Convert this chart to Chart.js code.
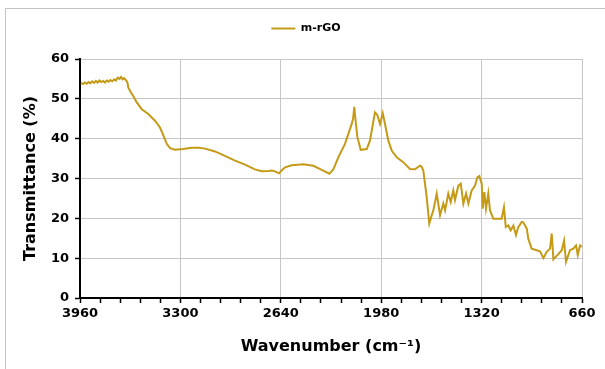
<!DOCTYPE html>
<html>
<head>
<meta charset="utf-8">
<script src="https://cdn.jsdelivr.net/npm/chart.js@4/dist/chart.umd.min.js"></script>
<style>
  html, body { margin: 0; padding: 0; background: #fff; }
  #wrap { position: relative; width: 605px; height: 369px; overflow: hidden; }
  #frame { position: absolute; left: 5px; top: 8px; width: 700px; height: 500px;
           border-left: 1px solid #c4c4c4; border-top: 1px solid #c4c4c4; }
  canvas { position: absolute; left: 0; top: 0; }
</style>
</head>
<body>
<div id="wrap">
  <div id="frame"></div>
  <canvas id="c" width="605" height="369"></canvas>
</div>
<script>
// FTIR spectrum of m-rGO: wavenumber (cm-1) and transmittance (%)
const wavenumbers = [
  3953, 3940, 3928, 3916, 3904, 3892, 3880, 3868, 3856, 3844, 3832, 3820,
  3808, 3796, 3784, 3772, 3760, 3748, 3736, 3724, 3712, 3700, 3690, 3680,
  3670, 3664, 3655, 3648, 3642, 3625, 3610, 3587, 3554, 3511, 3467, 3434,
  3412, 3390, 3368, 3335, 3281, 3226, 3180, 3138, 3073, 3007, 2941, 2875,
  2810, 2765, 2720, 2700, 2678, 2652, 2630, 2612, 2568, 2492, 2426, 2361,
  2321, 2295, 2262, 2218, 2174, 2165, 2157, 2147, 2137, 2115, 2075, 2054,
  2021, 2006, 1988, 1970, 1955, 1933, 1911, 1878, 1835, 1791, 1758, 1725,
  1715, 1703, 1681, 1664, 1650, 1637, 1615, 1593, 1572, 1560, 1539, 1523,
  1506, 1495, 1473, 1457, 1440, 1422, 1407, 1385, 1363, 1348, 1335, 1319,
  1313, 1302, 1291, 1276, 1265, 1243, 1210, 1188, 1173, 1161, 1144, 1129,
  1111, 1094, 1079, 1056, 1046, 1023, 1013, 991, 958, 936, 914, 892,
  870, 859, 848, 816, 793, 778, 765, 739, 717, 699, 688, 673, 662
];
const transmittance = [
  54.0, 53.7, 54.1, 53.8, 54.2, 53.9, 54.4, 54.0, 54.5, 54.1, 54.6, 54.2,
  54.5, 54.1, 54.6, 54.3, 54.7, 54.4, 54.9, 54.6, 55.3, 55.0, 55.5, 54.9,
  55.2, 54.9, 54.6, 54.0, 52.8, 51.6, 50.7, 49.1, 47.4, 46.2, 44.5, 42.8,
  40.8, 38.7, 37.6, 37.2, 37.4, 37.7, 37.7, 37.5, 36.8, 35.7, 34.5, 33.5,
  32.3, 31.8, 31.9, 32.0, 31.8, 31.3, 32.2, 32.8, 33.3, 33.6, 33.2, 32.0,
  31.2, 32.3, 35.3, 38.7, 43.7, 45.0, 48.0, 44.0, 40.5, 37.2, 37.4, 39.5,
  46.6, 46.0, 43.7, 46.4, 43.7, 39.5, 37.0, 35.3, 34.1, 32.4, 32.3, 33.2,
  33.0, 32.0, 25.3, 18.7, 20.5, 22.0, 26.2, 20.8, 23.7, 22.0, 26.2, 24.1,
  27.0, 24.6, 28.2, 28.7, 23.7, 26.2, 23.7, 27.0, 28.2, 30.3, 30.6, 28.7,
  22.4, 26.6, 22.4, 26.2, 22.0, 19.9, 19.9, 19.9, 22.8, 17.8, 18.2, 17.0,
  18.2, 15.8, 17.8, 19.1, 19.0, 17.4, 14.9, 12.4, 12.0, 11.7, 10.0, 11.6,
  12.4, 16.2, 9.7, 11.0, 12.0, 14.4, 9.1, 12.0, 12.4, 13.2, 10.8, 13.2, 12.9
];
const xMajorTicks = [3960, 3300, 2640, 1980, 1320, 660];
const yTicks = [0, 10, 20, 30, 40, 50, 60];
const seriesName = 'm-rGO';

const lineColor = '#C49A16';
const gridColor = '#c6c6c6';
const fontFamily = '"DejaVu Sans", sans-serif';

const points = wavenumbers.map((w, i) => ({ x: w, y: transmittance[i] }));

new Chart(document.getElementById('c'), {
  type: 'line',
  data: {
    datasets: [{
      label: seriesName,
      data: points,
      borderColor: lineColor,
      backgroundColor: lineColor,
      borderWidth: 2,
      pointRadius: 0,
      tension: 0,
      fill: false
    }]
  },
  options: {
    responsive: false,
    animation: false,
    devicePixelRatio: 1,
    layout: { padding: { top: 16, right: 23, left: 30, bottom: 0 } },
    plugins: {
      tooltip: { enabled: false },
      legend: {
        display: true,
        position: 'top',
        labels: {
          usePointStyle: true,
          pointStyle: 'line',
          pointStyleWidth: 24,
          color: '#000',
          padding: 7,
          font: { family: fontFamily, weight: 'bold', size: 11 }
        }
      },
      // empty band between the legend and the plot area
      subtitle: {
        display: true,
        text: '',
        position: 'top',
        weight: 500,
        font: { size: 1, lineHeight: 1 },
        padding: { top: 0, bottom: 14 }
      }
    },
    scales: {
      x: {
        type: 'linear',
        reverse: true,
        min: 660,
        max: 3960,
        afterFit: (s) => { s.height = 71; },
        afterBuildTicks: (s) => {
          const t = [];
          for (let v = 660; v <= 3960; v += 132) t.push({ value: v });
          s.ticks = t;
        },
        ticks: {
          autoSkip: false,
          maxRotation: 0,
          color: '#000',
          padding: 3,
          font: { family: fontFamily, weight: 'bold', size: 13 },
          callback: (v) => xMajorTicks.includes(v) ? String(v) : ''
        },
        grid: {
          color: (ctx) => (ctx.tick && xMajorTicks.includes(ctx.tick.value)) ? gridColor : 'rgba(0,0,0,0)',
          lineWidth: 1,
          drawTicks: true,
          tickLength: 5,
          tickColor: '#000',
          tickWidth: 1.5
        },
        border: { color: '#000', width: 2 },
        title: {
          display: true,
          text: 'Wavenumber (cm\u207B\u00B9)',
          color: '#000',
          font: { family: fontFamily, weight: 'bold', size: 16 },
          padding: { top: 0, bottom: 13 }
        }
      },
      y: {
        min: 0,
        max: 60,
        afterFit: (s) => { s.width = 50; },
        afterBuildTicks: (s) => { s.ticks = yTicks.map(v => ({ value: v })); },
        ticks: {
          color: '#000',
          padding: 6,
          font: { family: fontFamily, weight: 'bold', size: 13 }
        },
        grid: {
          color: gridColor,
          lineWidth: 1,
          drawTicks: true,
          tickLength: 5,
          tickColor: '#000',
          tickWidth: 1.5
        },
        border: { color: '#000', width: 2 },
        title: {
          display: true,
          text: 'Transmittance (%)',
          color: '#000',
          font: { family: fontFamily, weight: 'bold', size: 16 },
          padding: { top: -9, bottom: 0 }
        }
      }
    }
  }
});
</script>
</body>
</html>
